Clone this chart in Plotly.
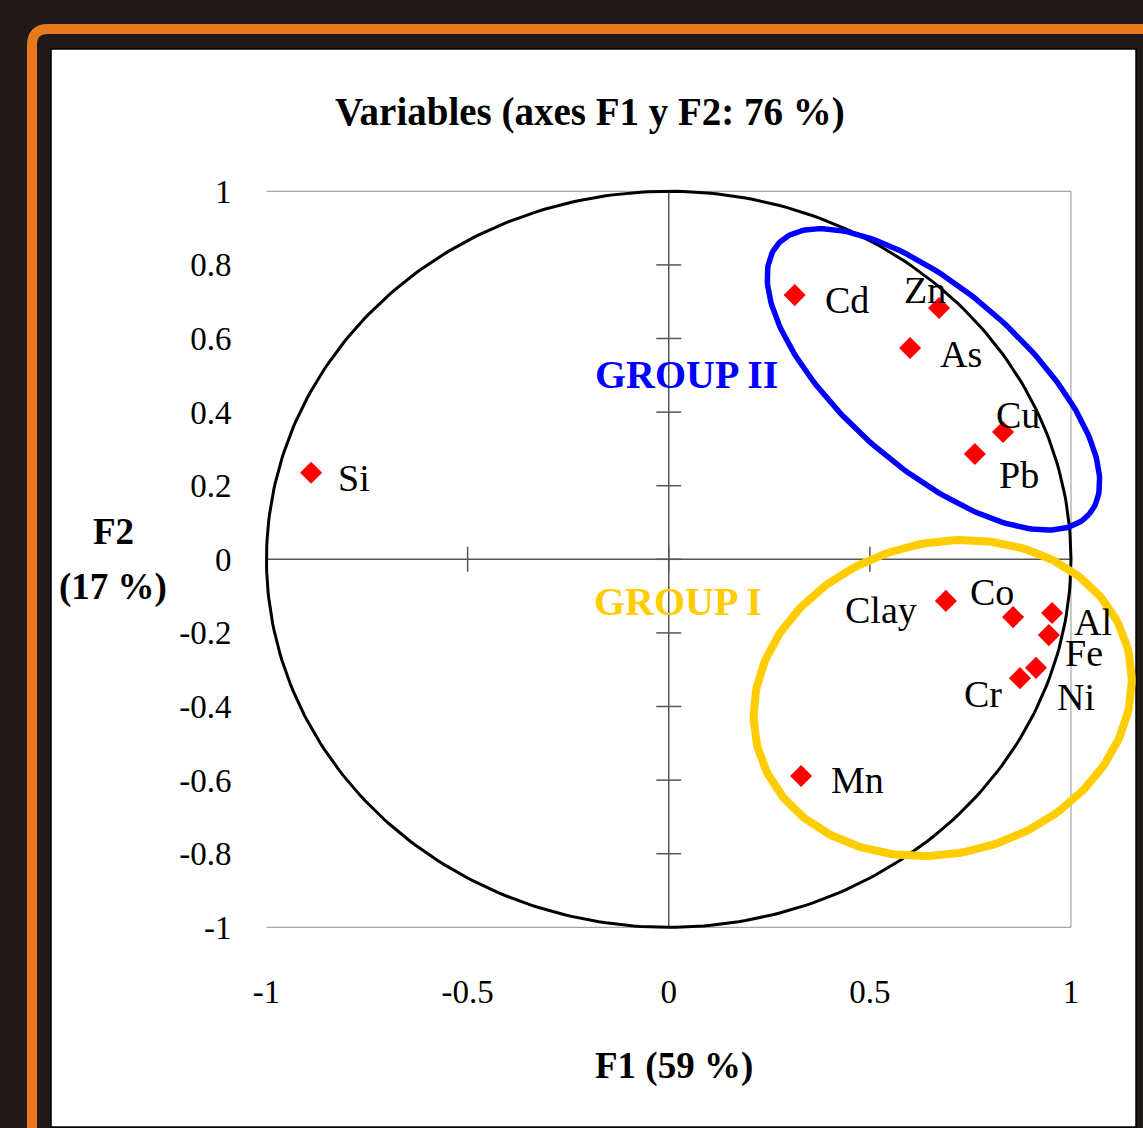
import numpy as np
import plotly.graph_objects as go

# ---------------- data ----------------
variables = ["Si", "Cd", "Zn", "As", "Cu", "Pb", "Clay", "Co", "Al", "Fe", "Ni", "Cr", "Mn"]
f1 = [-0.889, 0.313, 0.672, 0.600, 0.831, 0.761, 0.689, 0.856, 0.953, 0.945, 0.913, 0.873, 0.329]
f2 = [0.235, 0.718, 0.683, 0.574, 0.346, 0.286, -0.113, -0.157, -0.146, -0.206, -0.295, -0.323, -0.589]

x_ticks = [-1, -0.5, 0, 0.5, 1]
x_tick_text = ["-1", "-0.5", "0", "0.5", "1"]
y_ticks = [-1, -0.8, -0.6, -0.4, -0.2, 0, 0.2, 0.4, 0.6, 0.8, 1]
y_tick_text = ["-1", "-0.8", "-0.6", "-0.4", "-0.2", "0", "0.2", "0.4", "0.6", "0.8", "1"]

title_text = "Variables (axes F1 y F2: 76 %)"
x_title = "F1 (59 %)"
y_title_1 = "F2"
y_title_2 = "(17 %)"

# ---------------- styling / layout constants ----------------
label_dx = [43, 52, -14, 51, 15, 44, -65, -21, 41, 35, 40, -37, 56]
label_dy = [-5, -5, 18, -6, 17, -21, -9, 25, -9, -18, -29, -16, -4]

W, H = 1143, 1128
PLOT_L, PLOT_R, PLOT_T, PLOT_B = 266.5, 1071.0, 191.3, 927.3
SX = (PLOT_R - PLOT_L) / 2.0   # px per unit x
SY = (PLOT_B - PLOT_T) / 2.0   # px per unit y
XR = [-1.01, 1.17]
YR = [-1.01, 1.01]
dom_x = [(PLOT_L + (XR[0] + 1) * SX) / W, (PLOT_L + (XR[1] + 1) * SX) / W]
dom_y = [1 - (PLOT_B + (-1 - YR[0]) * SY) / H, 1 - (PLOT_T - (YR[1] - 1) * SY) / H]

FONT = "Liberation Serif"

# group ellipses (center in data units, semi-axes in px, rotation deg)
ell_blue = dict(cx=0.658, cy=0.489, a=206, b=89, ang=-40.9, color="#0000ff", width=5.5)
ell_gold = dict(cx=0.681, cy=-0.377, a=191.5, b=155, ang=15.8, color="#ffcc00", width=8)


def ellipse(e, n=240):
    t = np.linspace(0, 2 * np.pi, n)
    u = e["a"] * np.cos(t)
    v = e["b"] * np.sin(t)
    p = np.deg2rad(e["ang"])
    du = u * np.cos(p) - v * np.sin(p)
    dv = u * np.sin(p) + v * np.cos(p)
    return e["cx"] + du / SX, e["cy"] + dv / SY


fig = go.Figure()

# correlation circle
th = np.linspace(0, 2 * np.pi, 361)
fig.add_trace(go.Scatter(x=np.cos(th), y=np.sin(th), mode="lines",
                         line=dict(color="black", width=3), hoverinfo="skip"))

for e in (ell_blue, ell_gold):
    ex, ey = ellipse(e)
    fig.add_trace(go.Scatter(x=ex, y=ey, mode="lines",
                             line=dict(color=e["color"], width=e["width"]), hoverinfo="skip"))

fig.add_trace(go.Scatter(x=f1, y=f2, mode="markers",
                         marker=dict(symbol="diamond", size=17, color="#ff0000", line=dict(width=0)),
                         text=variables, hoverinfo="text", cliponaxis=False))

shapes = []
# dark frame decorations
shapes.append(dict(type="rect", xref="paper", yref="paper", layer="below",
                   x0=51 / W, x1=1136 / W, y0=1 - 1127 / H, y1=1 - 49 / H,
                   fillcolor="white", line=dict(color="black", width=1.5)))
r = 16
shapes.append(dict(type="path", xref="paper", yref="paper", layer="below",
                   path=(f"M {32 / W} {1 - 1140 / H} L {32 / W} {1 - (29 + r) / H} "
                         f"Q {32 / W} {1 - 29 / H} {(32 + r) / W} {1 - 29 / H} L {1160 / W} {1 - 29 / H}"),
                   line=dict(color="#e8791d", width=10)))

# plot border (top, right, bottom)
bc = "#a6a6a6"
shapes.append(dict(type="line", xref="x", yref="y", x0=-1, x1=1, y0=1, y1=1, line=dict(color=bc, width=1.2), layer="below"))
shapes.append(dict(type="line", xref="x", yref="y", x0=1, x1=1, y0=-1, y1=1, line=dict(color=bc, width=1.2), layer="below"))
shapes.append(dict(type="line", xref="x", yref="y", x0=-1, x1=1, y0=-1, y1=-1, line=dict(color=bc, width=1.2), layer="below"))

# axes through origin
ac = "#555555"
shapes.append(dict(type="line", xref="x", yref="y", x0=-1, x1=1, y0=0, y1=0, line=dict(color=ac, width=1.5), layer="below"))
shapes.append(dict(type="line", xref="x", yref="y", x0=0, x1=0, y0=-1, y1=1, line=dict(color=ac, width=1.5), layer="below"))
TL = 12.5
for xv in x_ticks:
    shapes.append(dict(type="line", xref="x", yref="y", x0=xv, x1=xv, y0=-TL / SY, y1=TL / SY,
                       line=dict(color=ac, width=1.5), layer="below"))
for yv in y_ticks:
    shapes.append(dict(type="line", xref="x", yref="y", x0=-TL / SX, x1=TL / SX, y0=yv, y1=yv,
                       line=dict(color=ac, width=1.5), layer="below"))

annotations = []
for name, xv, yv, dx, dy in zip(variables, f1, f2, label_dx, label_dy):
    annotations.append(dict(x=xv, y=yv, xref="x", yref="y", text=name, showarrow=False,
                            xshift=dx, yshift=dy, font=dict(family=FONT, size=38, color="black")))


def pa(text, px, py, size, color="black"):
    return dict(x=px / W, y=1 - py / H, xref="paper", yref="paper", text=text, showarrow=False,
                xanchor="center", yanchor="middle", font=dict(family=FONT, size=size, color=color))


annotations.append(pa(f"<b>{title_text}</b>", 589.5, 112, 39))
annotations.append(pa(f"<b>{x_title}</b>", 674, 1066, 37))
annotations.append(pa(f"<b>{y_title_1}</b>", 113, 531, 37))
annotations.append(pa(f"<b>{y_title_2}</b>", 113, 587, 37))
annotations.append(pa("<b>GROUP II</b>", 686, 375, 40, "#0000ff"))
annotations.append(pa("<b>GROUP I</b>", 678, 601, 40, "#ffcc00"))

fig.update_layout(
    width=W, height=H, margin=dict(l=0, r=0, t=0, b=0, pad=0, autoexpand=False),
    paper_bgcolor="#201b18", plot_bgcolor="rgba(0,0,0,0)",
    showlegend=False, shapes=shapes, annotations=annotations,
    xaxis=dict(domain=dom_x, range=XR, showgrid=False, zeroline=False, showline=False,
               tickvals=x_ticks, ticktext=x_tick_text, ticks="", automargin=False,
               tickfont=dict(family=FONT, size=33, color="black"), ticklabelstandoff=38),
    yaxis=dict(domain=dom_y, range=YR, showgrid=False, zeroline=False, showline=False,
               tickvals=y_ticks, ticktext=y_tick_text, ticks="", automargin=False,
               tickfont=dict(family=FONT, size=33, color="black"), ticklabelstandoff=30),
)

fig.write_html("out.html", config={"displayModeBar": False},
               post_script="document.body.style.margin='0';document.body.style.overflow='hidden';")
